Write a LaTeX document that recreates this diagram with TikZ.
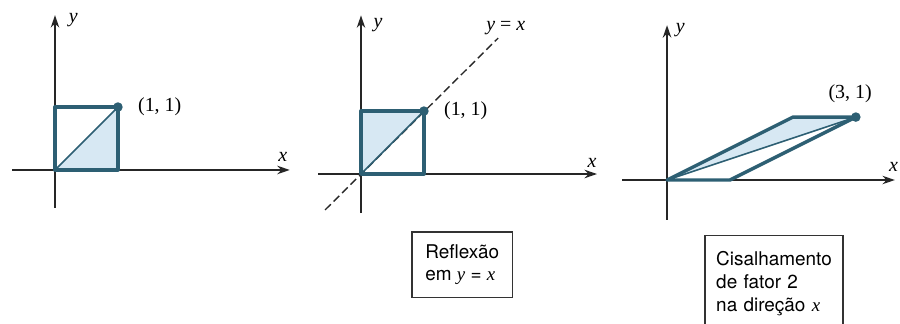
\documentclass[tikz,border=0pt]{standalone}
\usepackage{fontspec}
\setmainfont{Liberation Serif}
\setsansfont{TeX Gyre Heros}
\usetikzlibrary{arrows.meta,positioning}
\definecolor{edgeblue}{RGB}{45,95,115}
\definecolor{fillblue}{RGB}{215,232,243}
\newcommand{\mv}[1]{{\rmfamily\itshape #1}}

\begin{document}
\begin{tikzpicture}[
  every node/.style={font=\fontsize{10}{12}\selectfont},
  axis/.style={-{Stealth[length=2.2mm,width=1.5mm]},line width=0.75pt,black!85},
  figedge/.style={draw=edgeblue,line width=1.7pt,line join=round},
  diag/.style={edgeblue,line width=0.8pt},
  corner/.style={circle,fill=edgeblue,inner sep=0pt,minimum size=4.8pt},
  caption/.style={draw,line width=0.8pt,black!80,text=black,align=left,
    font=\sffamily\fontsize{9.5}{11.5}\selectfont}
]
  \clip (0,0) rectangle (15.874,5.697);
  % identidade
  \begin{scope}[shift={(0.970cm,2.699cm)},x=1.11cm,y=1.11cm]
    \coordinate (o1) at (0,0);
    \coordinate (a1) at (1,0);
    \coordinate (c1) at (0,1);
    \coordinate (xa1) at (-0.68,0);
    \coordinate (xb1) at (3.73,0);
    \coordinate (ya1) at (0,-0.6);
    \coordinate (yb1) at (0,2.46);
    \fill[fillblue] (o1) -- (a1) -- (1,1) -- cycle;
    \draw[axis] (xa1) -- (xb1);
    \draw[axis] (ya1) -- (yb1);
    \node (xl1) at (3.62,0.2) {\mv{x}};
    \node (yl1) at (0.29,2.38) {\mv{y}};
    \node[corner,label={[label distance=4pt]right:(1, 1)}] (p1) at (1,1) {};
    \draw[figedge] (o1) -- (a1) -- (p1.center) -- (c1) -- cycle;
    \draw[diag] (o1) -- (p1.center);
  \end{scope}
  % reflexao
  \begin{scope}[shift={(6.367cm,2.628cm)},x=1.11cm,y=1.11cm]
    \coordinate (o2) at (0,0);
    \coordinate (a2) at (1,0);
    \coordinate (c2) at (0,1);
    \coordinate (xa2) at (-0.68,0);
    \coordinate (xb2) at (3.75,0);
    \coordinate (ya2) at (0,-0.62);
    \coordinate (yb2) at (0,2.52);
    \coordinate (da) at (-0.57,-0.57);
    \coordinate (db) at (2.18,2.16);
    \fill[fillblue] (o2) -- (c2) -- (1,1) -- cycle;
    \draw[axis] (xa2) -- (xb2);
    \draw[axis] (ya2) -- (yb2);
    \draw[black!85,line width=0.7pt,dash pattern=on 4pt off 2pt] (da) -- (db);
    \node (xl2) at (3.67,0.17) {\mv{x}};
    \node (yl2) at (0.27,2.37) {\mv{y}};
    \node (yx) at (2.30,2.32) {\mv{y} = \mv{x}};
    \node[corner,label={[label distance=4pt]right:(1, 1)}] (p2) at (1,1) {};
    \draw[figedge] (o2) -- (a2) -- (p2.center) -- (c2) -- cycle;
    \draw[diag] (o2) -- (p2.center);
    \node[caption,minimum width=50.5pt,minimum height=33pt] (refl) at (1.61,-1.44)
      {Reflexão\\em \mv{y} = \mv{x}};
  \end{scope}
  % cisalhamento
  \begin{scope}[shift={(11.765cm,2.522cm)},x=1.11cm,y=1.11cm]
    \coordinate (o3) at (0,0);
    \coordinate (a3) at (1,0);
    \coordinate (c3) at (2,1);
    \coordinate (xa3) at (-0.71,0);
    \coordinate (xb3) at (3.62,0);
    \coordinate (ya3) at (0,-0.63);
    \coordinate (yb3) at (0,2.46);
    \fill[fillblue] (o3) -- (c3) -- (3,1) -- cycle;
    \draw[axis] (xa3) -- (xb3);
    \draw[axis] (ya3) -- (yb3);
    \node (xl3) at (3.60,0.21) {\mv{x}};
    \node (yl3) at (0.21,2.38) {\mv{y}};
    \node[corner,label={[label distance=1pt,xshift=-0.1cm]above:(3, 1)}] (p3) at (3,1) {};
    \draw[figedge] (o3) -- (a3) -- (p3.center) -- (c3) -- cycle;
    \draw[diag] (o3) -- (p3.center);
    \node[caption,anchor=north,text width=58pt,inner xsep=5.5pt,inner ysep=8pt]
      (shear) at (1.70,-0.87)
      {Cisalhamento\\de fator 2\\na direção \mv{x}};
  \end{scope}
\end{tikzpicture}
\end{document}
